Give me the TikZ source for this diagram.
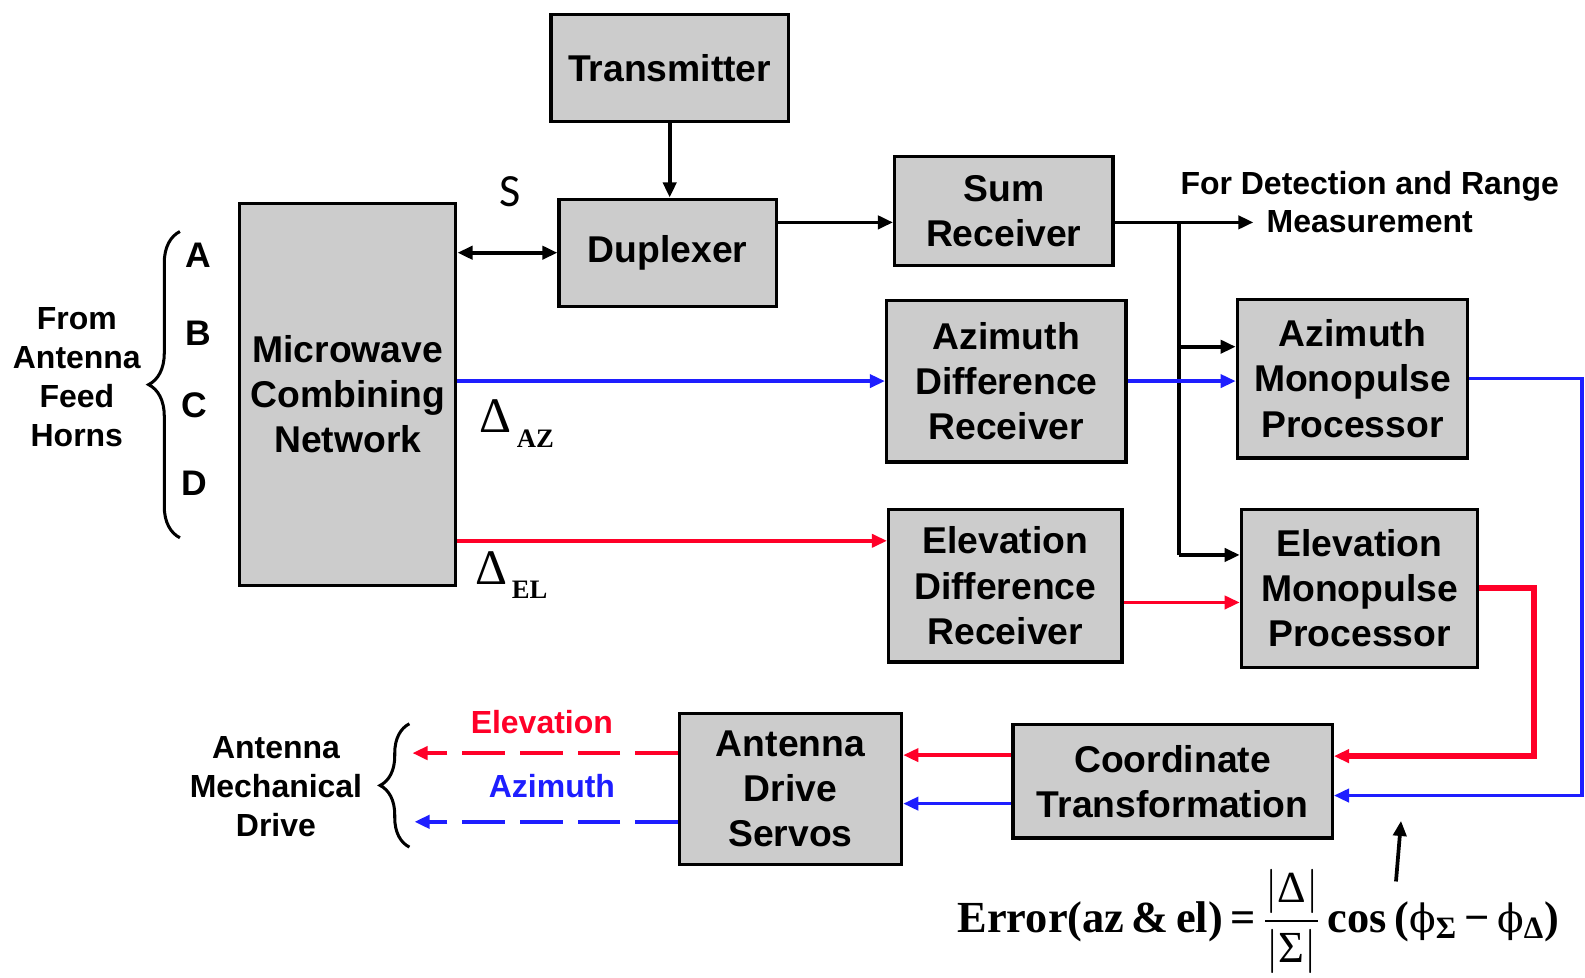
\documentclass[tikz,border=0pt]{standalone}
\usepackage{fontspec}
\usepackage{amsmath}
\setmainfont{Liberation Sans}
\newfontfamily\serifface{Liberation Serif}
\newfontfamily\phiface{DejaVu Serif}
\newfontfamily\calibface{Carlito}
\usetikzlibrary{arrows.meta,decorations.pathreplacing,calc}
\definecolor{boxgray}{RGB}{204,204,204}
\definecolor{sigred}{RGB}{255,0,40}
\definecolor{sigblue}{RGB}{30,30,255}
\newcommand{\phisym}{{\phiface\mdseries\fontsize{22}{26}\selectfont ϕ}}

\begin{document}
\begin{tikzpicture}[x=0.02cm,y=-0.02cm,
  >={Triangle[length=0.3cm,width=0.26cm]},
  blk/.style={draw=black, line width=1.8pt, fill=boxgray, align=center,
    inner sep=0pt, font=\fontsize{21}{25.5}\selectfont\bfseries},
  wire/.style={line width=2.1pt, black},
  redwire/.style={line width=2pt, sigred},
  bluewire/.style={line width=2pt, sigblue},
  dashwire/.style={line width=2.3pt, dash pattern=on 0.84cm off 0.3cm},
  lbl/.style={align=center, inner sep=0pt, font=\fontsize{18}{22}\selectfont\bfseries},
  horn/.style={inner sep=0pt, font=\fontsize{20}{22}\selectfont\bfseries},
  curly/.style={line width=1.7pt, decorate},
]
\useasboundingbox (0,0) rectangle (1568,967);

% ---- processing blocks ----
\node[blk, minimum width=4.70cm, minimum height=2.12cm] (tx)  at (662.5,67)   {Transmitter};
\node[blk, minimum width=4.30cm, minimum height=2.12cm] (dup) at (660.5,250)  {Duplexer};
\node[blk, minimum width=4.28cm, minimum height=7.56cm] (mcn) at (344,390)    {Microwave\\Combining\\Network};
\node[blk, minimum width=4.32cm, minimum height=2.16cm] (sum) at (993,209)    {Sum\\Receiver};
\node[blk, minimum width=4.74cm, minimum height=3.20cm] (azd) at (995.5,377)  {Azimuth\\Difference\\Receiver};
\node[blk, minimum width=4.62cm, minimum height=3.02cm] (eld) at (994.5,579.5){Elevation\\Difference\\Receiver};
\node[blk, minimum width=4.56cm, minimum height=3.14cm] (azm) at (1338,374.5) {Azimuth\\Monopulse\\Processor};
\node[blk, minimum width=4.68cm, minimum height=3.12cm] (elm) at (1345,582)   {Elevation\\Monopulse\\Processor};
\node[blk, minimum width=6.32cm, minimum height=2.24cm] (ct)  at (1160,773)   {Coordinate\\Transformation};
\node[blk, minimum width=4.40cm, minimum height=2.98cm] (ads) at (782,780.5)  {Antenna\\Drive\\Servos};

% ---- labels ----
\node[lbl] (horns) at (76,373) {From\\Antenna\\Feed\\Horns};
\node[horn] (ha) at (196,253) {A};
\node[horn] (hb) at (196,330) {B};
\node[horn] (hc) at (192,401) {C};
\node[horn] (hd) at (192,478) {D};
\node[lbl] (mech) at (273,778) {Antenna\\Mechanical\\Drive};
\node[lbl, text=sigred] (elvlbl) at (536,714) {Elevation};
\node[lbl, text=sigblue] (azlbl) at (546,778) {Azimuth};
\node[lbl, font=\fontsize{18}{21}\selectfont\bfseries] (detlbl) at (1355,200) {For Detection and Range\\Measurement};
\node[inner sep=0pt] (slab) at (505,190) {\calibface\fontsize{26}{28}\selectfont S};

\node[anchor=base west, inner sep=0pt] (daz) at (474,428) {\serifface\fontsize{28}{30}\selectfont Δ};
\node[anchor=base west, inner sep=0pt] (dazsub) at (511,443) {\serifface\bfseries\fontsize{15}{16}\selectfont AZ};
\node[anchor=base west, inner sep=0pt] (del) at (470,578) {\serifface\fontsize{28}{30}\selectfont Δ};
\node[anchor=base west, inner sep=0pt] (delsub) at (506,592) {\serifface\bfseries\fontsize{15}{16}\selectfont EL};

\node[anchor=base west, inner sep=0pt] (eq) at (947,922)
  {\serifface\bfseries\fontsize{25}{30}\selectfont
   Error(az\,\&\,el)\,=\,$\dfrac{\left|\text{\mdseries Δ}\right|}{\left|\text{\mdseries Σ}\right|}$\,cos\,(\phisym\textsubscript{Σ}\,−\,\phisym\textsubscript{Δ})};

% ---- braces ----
\draw[curly, decoration={brace, amplitude=0.62cm}] (178,532) -- (178,229);
\draw[curly, decoration={brace, amplitude=0.58cm}] (405,838) -- (405,716);

% ---- routing points ----
\coordinate (lvsum) at (0,220);
\coordinate (br)    at (1166,220);
\coordinate (det)   at (1240,220);
\coordinate (kaz)   at (1166,343);
\coordinate (kel)   at (1166,549);
\coordinate (lvred) at (0,535);
\coordinate (lvred2) at (0,596);
\coordinate (azloop) at (1565,787);
\coordinate (elloop) at (1518,748);
\coordinate (lvctr) at (0,747);
\coordinate (lvctb) at (0,795);
\coordinate (elout) at (408,745);
\coordinate (azout) at (410,813);
\coordinate (eqfoot) at (1381,872);
\coordinate (eqtip)  at (1386,812);

% ---- sum channel ----
\draw[wire,->] (tx.south) -- (tx.south |- dup.north);
\draw[wire,<->] (mcn.east |- dup.west) -- (dup.west);
\draw[wire,->] (dup.east |- lvsum) -- (sum.west |- lvsum);
\draw[wire,->] (sum.east |- lvsum) -- (det);
\draw[wire] (br) -- (kel);
\draw[wire,->] (kaz) -- (kaz -| azm.west);
\draw[wire,->] (kel) -- (kel -| elm.west);

% ---- difference channels ----
\draw[bluewire,->] (mcn.east |- azd.west) -- (azd.west);
\draw[bluewire,->] (azd.east) -- (azd.east -| azm.west);
\draw[redwire,->] (mcn.east |- lvred) -- (eld.west |- lvred);
\draw[redwire,->] (eld.east |- lvred2) -- (elm.west |- lvred2);

% ---- processor outputs ----
\draw[bluewire,->] (azm.east) -| (azloop) -- (ct.east |- azloop);
\draw[redwire, line width=3.4pt,->] (elm.east) -| (elloop) -- (ct.east |- elloop);

% ---- servo commands ----
\draw[redwire,->] (ct.west |- lvctr) -- (ads.east |- lvctr);
\draw[bluewire,->] (ct.west |- lvctb) -- (ads.east |- lvctb);
\draw[redwire,dashwire,->] (ads.west |- elout) -- (elout);
\draw[bluewire,dashwire,->] (ads.west |- azout) -- (azout);

% ---- error formula pointer ----
\draw[wire,->] (eqfoot) -- (eqtip);
\end{tikzpicture}
\end{document}
